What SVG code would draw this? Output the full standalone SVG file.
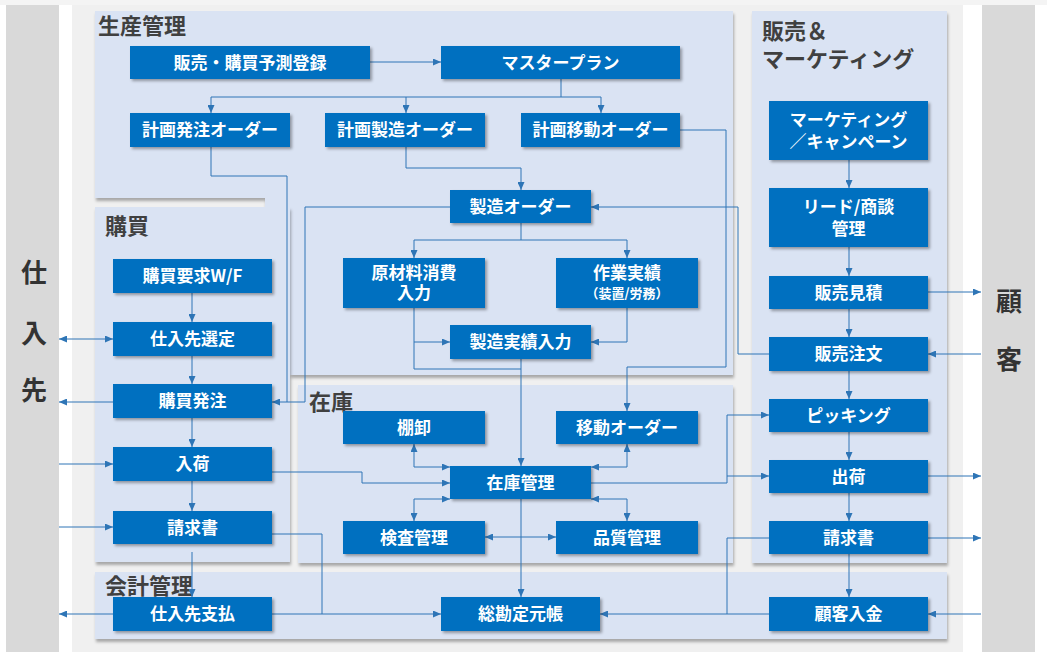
<svg xmlns="http://www.w3.org/2000/svg" width="1047" height="661" viewBox="0 0 1047 661">
  <defs>
    <filter id="shadow" x="-10%" y="-10%" width="130%" height="140%">
      <feDropShadow dx="2" dy="2" stdDeviation="1.5" flood-color="#000" flood-opacity="0.35"/>
    </filter>
    <filter id="pshadow" x="-5%" y="-5%" width="110%" height="115%">
      <feDropShadow dx="1" dy="3" stdDeviation="1.5" flood-color="#000" flood-opacity="0.3"/>
    </filter>
    <marker id="arr" viewBox="0 0 8 7" refX="8" refY="3.5" markerWidth="8" markerHeight="7" markerUnits="userSpaceOnUse" orient="auto-start-reverse">
      <path d="M0,0 L8,3.5 L0,7 z" fill="#2e75b6"/>
    </marker>
    <style>
      .panel { fill: #dae3f3; filter: url(#pshadow); }
      .node rect { fill: #0070c0; filter: url(#shadow); }
      .node text { fill: #ffffff; font-family: "Noto Sans CJK JP", "Noto Sans", sans-serif; font-weight: bold; font-size: 17px; text-anchor: middle; dominant-baseline: central; }
      .node text.small { font-size: 13px; }
      .ptitle { fill: #404040; font-family: "Noto Sans CJK JP", "Noto Sans", sans-serif; font-weight: bold; font-size: 22px; }
      .side { fill: #333333; font-family: "Noto Sans CJK JP", "Noto Sans", sans-serif; font-weight: bold; font-size: 26px; text-anchor: middle; dominant-baseline: central; }
      .conn path { fill: none; stroke: #2e75b6; stroke-width: 1; }
      .a { marker-end: url(#arr); }
      .b { marker-start: url(#arr); marker-end: url(#arr); }
    </style>
  </defs>

  <!-- backdrop -->
  <rect x="0" y="0" width="1047" height="661" fill="#ffffff"/>
  <rect x="0" y="0" width="1047" height="5" fill="#f4f4f4"/>
  <rect x="72" y="5" width="891" height="647" fill="#f0f0f0"/>
  <rect x="6" y="5" width="53" height="647" fill="#d9d9d9"/>
  <rect x="982" y="5" width="53" height="647" fill="#d9d9d9"/>

  <!-- outside parties -->
  <g id="supplier">
    <text class="side" x="34" y="270">仕</text>
    <text class="side" x="34" y="331">入</text>
    <text class="side" x="34" y="388">先</text>
  </g>
  <g id="customer">
    <text class="side" x="1009" y="299">顧</text>
    <text class="side" x="1009" y="357">客</text>
  </g>

  <!-- functional areas -->
  <g id="area-production">
    <path class="panel" d="M95,11 H733 V375 H290 V207 H265 V198 H95 Z"/>
    <text class="ptitle" x="98" y="34">生産管理</text>
  </g>
  <g id="area-sales">
    <rect class="panel" x="752" y="11" width="195" height="552"/>
    <text class="ptitle" x="762" y="39">販売＆</text>
    <text class="ptitle" x="762" y="67">マーケティング</text>
  </g>
  <g id="area-purchasing">
    <rect class="panel" x="95" y="207" width="195" height="355"/>
    <text class="ptitle" x="105" y="234">購買</text>
  </g>
  <g id="area-inventory">
    <rect class="panel" x="298" y="385" width="435" height="178"/>
    <text class="ptitle" x="309" y="410">在庫</text>
  </g>
  <g id="area-accounting">
    <rect class="panel" x="95" y="572" width="852" height="67"/>
    <text class="ptitle" x="105" y="594">会計管理</text>
  </g>

  <!-- connectors -->
  <g id="connectors" class="conn">
    <path class="a" d="M370,62 H441"/>
    <path class="a" d="M561,79 V97 H211 V113"/>
    <path class="a" d="M561,97 H601 V113"/>
    <path class="a" d="M406,97 V113"/>
    <path d="M211,147 V176 H287 V402"/>
    <path class="a" d="M450,207 H305 V402 H272"/>
    <path class="a" d="M406,147 V168 H521 V190"/>
    <path class="a" d="M680,130 H726 V367 H627 V411"/>
    <path class="a" d="M769,354 H738 V207 H591"/>
    <path class="a" d="M521,223 V240 H414 V258"/>
    <path class="a" d="M521,240 H627 V258"/>
    <path d="M414,308 V369 H521"/>
    <path class="a" d="M414,342 H450"/>
    <path class="a" d="M627,308 V342 H591"/>
    <path class="a" d="M521,359 V466"/>
    <path class="b" d="M414,444 V467 H450"/>
    <path class="b" d="M627,444 V467 H591"/>
    <path class="b" d="M450,499 H414 V521"/>
    <path class="b" d="M591,499 H627 V521"/>
    <path class="b" d="M485,537 H556"/>
    <path class="a" d="M521,499 V597"/>
    <path class="a" d="M272,472 H362 V483 H450"/>
    <path class="a" d="M591,483 H727 V415 H769"/>
    <path class="a" d="M727,476 H769"/>
    <path d="M769,538 H727 V614"/>
    <path class="a" d="M769,614 H600"/>
    <path d="M272,534 H322 V614"/>
    <path class="a" d="M272,614 H441"/>
    <!-- purchasing chain -->
    <path class="a" d="M192,293 V322"/>
    <path class="a" d="M192,356 V384"/>
    <path class="a" d="M192,418 V447"/>
    <path class="a" d="M192,481 V511"/>
    <path class="a" d="M192,552 V597"/>
    <path class="b" d="M59,339 H113"/>
    <path class="a" d="M113,402 H59"/>
    <path class="a" d="M59,464 H113"/>
    <path class="a" d="M59,527 H113"/>
    <path class="a" d="M113,614 H59"/>
    <!-- sales chain -->
    <path class="a" d="M849,160 V188"/>
    <path class="a" d="M849,247 V276"/>
    <path class="a" d="M849,309 V337"/>
    <path class="a" d="M849,371 V399"/>
    <path class="a" d="M849,432 V460"/>
    <path class="a" d="M849,493 V521"/>
    <path class="a" d="M849,554 V597"/>
    <path class="a" d="M928,292 H981"/>
    <path class="a" d="M981,354 H928"/>
    <path class="a" d="M928,476 H981"/>
    <path class="a" d="M928,538 H981"/>
    <path class="a" d="M981,614 H928"/>
  </g>

  <!-- production -->
  <g id="forecast" class="node"><rect x="130" y="46" width="240" height="33"/><text x="250" y="61">販売・購買予測登録</text></g>
  <g id="master-plan" class="node"><rect x="441" y="46" width="239" height="33"/><text x="560.5" y="61">マスタープラン</text></g>
  <g id="planned-purchase" class="node"><rect x="130" y="113" width="160" height="34"/><text x="210" y="128.5">計画発注オーダー</text></g>
  <g id="planned-production" class="node"><rect x="325" y="113" width="160" height="34"/><text x="405" y="128.5">計画製造オーダー</text></g>
  <g id="planned-transfer" class="node"><rect x="521" y="113" width="159" height="34"/><text x="600.5" y="128.5">計画移動オーダー</text></g>
  <g id="production-order" class="node"><rect x="450" y="190" width="141" height="33"/><text x="520.5" y="205">製造オーダー</text></g>
  <g id="material-consumption" class="node"><rect x="343" y="258" width="142" height="50"/><text x="414" y="271">原材料消費</text><text x="414" y="291.5">入力</text></g>
  <g id="work-results" class="node"><rect x="556" y="258" width="142" height="50"/><text x="627" y="271">作業実績</text><text class="small" x="627" y="292">（装置/労務）</text></g>
  <g id="production-results" class="node"><rect x="450" y="325" width="141" height="34"/><text x="520.5" y="340.5">製造実績入力</text></g>

  <!-- purchasing -->
  <g id="purchase-request" class="node"><rect x="113" y="259" width="159" height="34"/><text x="192.5" y="274.5">購買要求W/F</text></g>
  <g id="supplier-selection" class="node"><rect x="113" y="322" width="159" height="34"/><text x="192.5" y="337.5">仕入先選定</text></g>
  <g id="purchase-order" class="node"><rect x="113" y="384" width="159" height="34"/><text x="192.5" y="399.5">購買発注</text></g>
  <g id="goods-receipt" class="node"><rect x="113" y="447" width="159" height="34"/><text x="192.5" y="462.5">入荷</text></g>
  <g id="vendor-invoice" class="node"><rect x="113" y="511" width="159" height="33"/><text x="192.5" y="526">請求書</text></g>

  <!-- inventory -->
  <g id="stocktaking" class="node"><rect x="343" y="411" width="142" height="33"/><text x="414" y="426">棚卸</text></g>
  <g id="transfer-order" class="node"><rect x="556" y="411" width="142" height="33"/><text x="627" y="426">移動オーダー</text></g>
  <g id="inventory-mgmt" class="node"><rect x="450" y="466" width="141" height="33"/><text x="520.5" y="481">在庫管理</text></g>
  <g id="inspection" class="node"><rect x="343" y="521" width="142" height="33"/><text x="414" y="536">検査管理</text></g>
  <g id="quality" class="node"><rect x="556" y="521" width="142" height="33"/><text x="627" y="536">品質管理</text></g>

  <!-- sales -->
  <g id="campaign" class="node"><rect x="769" y="101" width="159" height="59"/><text x="848.5" y="118">マーケティング</text><text x="848.5" y="140">／キャンペーン</text></g>
  <g id="leads" class="node"><rect x="769" y="188" width="159" height="59"/><text x="848.5" y="205">リード/商談</text><text x="848.5" y="227">管理</text></g>
  <g id="quotation" class="node"><rect x="769" y="276" width="159" height="33"/><text x="848.5" y="291">販売見積</text></g>
  <g id="sales-order" class="node"><rect x="769" y="337" width="159" height="34"/><text x="848.5" y="352.5">販売注文</text></g>
  <g id="picking" class="node"><rect x="769" y="399" width="159" height="33"/><text x="848.5" y="414">ピッキング</text></g>
  <g id="shipping" class="node"><rect x="769" y="460" width="159" height="33"/><text x="848.5" y="475">出荷</text></g>
  <g id="customer-invoice" class="node"><rect x="769" y="521" width="159" height="33"/><text x="848.5" y="536">請求書</text></g>

  <!-- accounting -->
  <g id="vendor-payment" class="node"><rect x="113" y="597" width="159" height="34"/><text x="192.5" y="612.5">仕入先支払</text></g>
  <g id="general-ledger" class="node"><rect x="441" y="597" width="159" height="34"/><text x="520.5" y="612.5">総勘定元帳</text></g>
  <g id="customer-payment" class="node"><rect x="769" y="597" width="159" height="34"/><text x="848.5" y="612.5">顧客入金</text></g>
</svg>
